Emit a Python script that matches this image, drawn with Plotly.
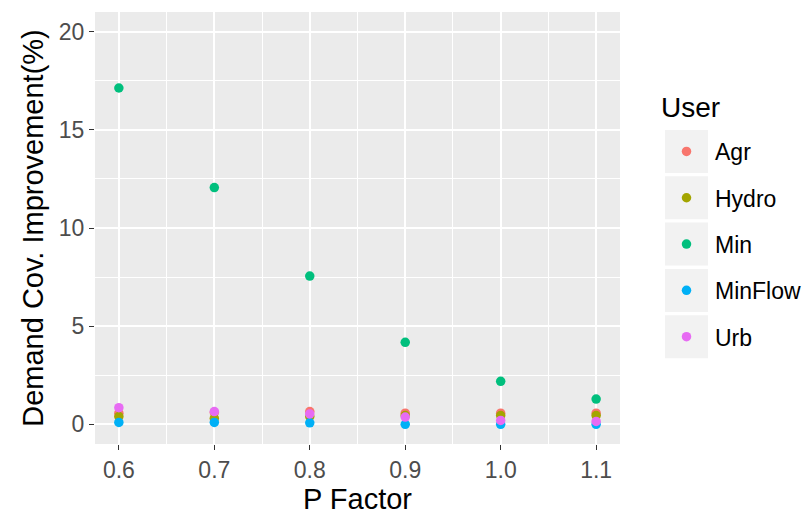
import plotly.graph_objects as go

# P factor levels on the x axis
p_factor = [0.6, 0.7, 0.8, 0.9, 1.0, 1.1]

# Demand coverage improvement (%) per user type
users = ["Agr", "Hydro", "Min", "MinFlow", "Urb"]
agr = [0.57, 0.60, 0.65, 0.57, 0.57, 0.57]
hydro = [0.40, 0.30, 0.40, 0.45, 0.45, 0.45]
mining = [17.13, 12.06, 7.55, 4.18, 2.19, 1.29]
minflow = [0.10, 0.10, 0.08, 0.00, 0.00, 0.00]
urb = [0.85, 0.65, 0.53, 0.37, 0.20, 0.15]

series = [agr, hydro, mining, minflow, urb]
colors = ["#F8766D", "#A3A500", "#00BF7D", "#00B0F6", "#E76BF3"]

FONT = "Liberation Sans, Arial, sans-serif"
W, H = 805, 518
ML, MR, MT, MB = 95, 185, 12, 74
PW, PH = W - ML - MR, H - MT - MB


def px_x(x):
    return (x - ML) / PW


def px_y(y):
    return 1 - (y - MT) / PH


fig = go.Figure()
for i, (name, vals, col) in enumerate(zip(users, series, colors)):
    fig.add_trace(go.Scatter(
        x=p_factor, y=vals, mode="markers", name=name,
        legendgroup=name,
        marker=dict(color=col, size=9.5, line=dict(width=0)),
    ))

# grey key boxes behind the legend entries
key_left, key_size, key_top, key_step = 665, 43, 130, 46.3
shapes = []
for i in range(len(users)):
    y0 = key_top + i * key_step
    shapes.append(dict(
        type="rect", xref="paper", yref="paper",
        x0=px_x(key_left), x1=px_x(key_left + key_size),
        y0=px_y(y0 + key_size), y1=px_y(y0),
        fillcolor="#F2F2F2", line=dict(width=0), layer="below",
    ))

axis_common = dict(
    showline=False, zeroline=False,
    gridcolor="#FFFFFF", gridwidth=1.6,
    ticks="outside", ticklen=5, tickwidth=1.1, tickcolor="#333333",
    tickfont=dict(family=FONT, size=23, color="#4D4D4D"),
    minor=dict(showgrid=True, gridcolor="#FFFFFF", gridwidth=0.8, ticks=""),
)

fig.update_layout(
    width=W, height=H,
    margin=dict(l=ML, r=MR, t=MT, b=MB, autoexpand=False),
    paper_bgcolor="#FFFFFF", plot_bgcolor="#EBEBEB",
    font=dict(family=FONT, color="#000000"),
    xaxis=dict(
        range=[0.575, 1.125], tickmode="array",
        tickvals=p_factor, ticktext=["0.6", "0.7", "0.8", "0.9", "1.0", "1.1"],
        title=dict(text="P Factor", font=dict(family=FONT, size=29, color="#000000"), standoff=6),
        **axis_common,
    ),
    yaxis=dict(
        range=[-1, 21], tickmode="array", tickvals=[0, 5, 10, 15, 20],
        title=dict(text="Demand Cov. Improvement(%)", font=dict(family=FONT, size=29, color="#000000"), standoff=6),
        **axis_common,
    ),
    showlegend=True,
    legend=dict(
        font=dict(family=FONT, size=23, color="#000000"),
        x=px_x(658), xanchor="left",
        y=px_y(130), yanchor="top",
        bgcolor="rgba(0,0,0,0)",
        tracegroupgap=13.4, itemwidth=47,
    ),
    annotations=[dict(
        text="User", xref="paper", yref="paper",
        x=px_x(659), xanchor="left", y=px_y(107), yanchor="middle",
        showarrow=False, font=dict(family=FONT, size=28, color="#000000"),
    )],
    shapes=shapes,
)
fig.update_xaxes(minor=dict(dtick=0.05, tick0=0.55))
fig.update_yaxes(minor=dict(dtick=2.5, tick0=0))

fig.write_html("out.html")
